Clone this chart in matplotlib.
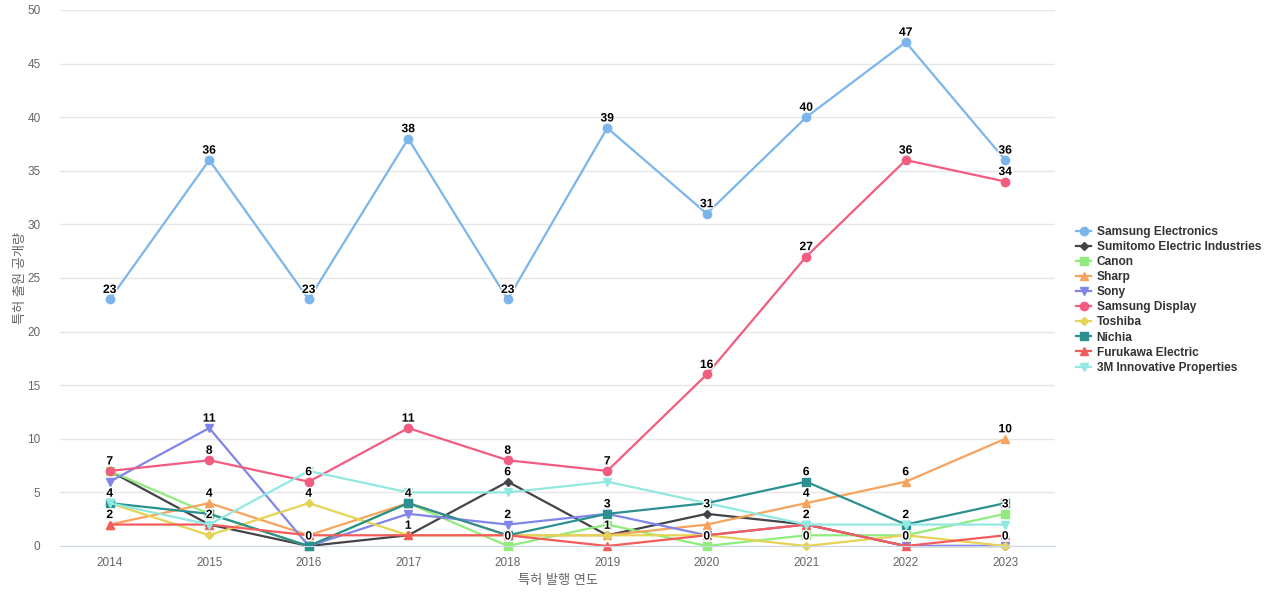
import matplotlib
matplotlib.use("Agg")
import matplotlib.pyplot as plt
import matplotlib.patheffects as pe

plt.rcParams['font.family'] = ['Liberation Sans', 'Noto Sans CJK KR', 'DejaVu Sans']

years = [2014, 2015, 2016, 2017, 2018, 2019, 2020, 2021, 2022, 2023]

samsung_electronics = [23, 36, 23, 38, 23, 39, 31, 40, 47, 36]
sumitomo = [7, 2, 0, 1, 6, 1, 3, 2, 0, 0]
canon = [7, 3, 0, 4, 0, 2, 0, 1, 1, 3]
sharp = [2, 4, 1, 4, 1, 1, 2, 4, 6, 10]
sony = [6, 11, 0, 3, 2, 3, 1, 2, 0, 0]
samsung_display = [7, 8, 6, 11, 8, 7, 16, 27, 36, 34]
toshiba = [4, 1, 4, 1, 1, 1, 1, 0, 1, 0]
nichia = [4, 3, 0, 4, 1, 3, 4, 6, 2, 4]
furukawa = [2, 2, 1, 1, 1, 0, 1, 2, 0, 1]
innovative_3m = [4, 2, 7, 5, 5, 6, 4, 2, 2, 2]

series = [
    ("Samsung Electronics", samsung_electronics, "#7cb5ec", "o"),
    ("Sumitomo Electric Industries", sumitomo, "#434348", "D"),
    ("Canon", canon, "#90ed7d", "s"),
    ("Sharp", sharp, "#f7a35c", "^"),
    ("Sony", sony, "#8085e9", "v"),
    ("Samsung Display", samsung_display, "#f15c80", "o"),
    ("Toshiba", toshiba, "#e4d354", "D"),
    ("Nichia", nichia, "#2b908f", "s"),
    ("Furukawa Electric", furukawa, "#f45b5b", "^"),
    ("3M Innovative Properties", innovative_3m, "#91e8e1", "v"),
]

fig = plt.figure(figsize=(12.8, 6), dpi=100)
ax = fig.add_axes([60 / 1280, 54 / 600, 995 / 1280, 536 / 600])

x = list(range(len(years)))
for name, vals, color, marker in series:
    ms = 4.5 if marker == "D" else 6
    ax.plot(x, vals, color=color, marker=marker, markersize=ms, linewidth=1.6,
            label=name, clip_on=False)

ax.set_xlim(-0.5, len(years) - 0.5)
ax.set_ylim(0, 50)
ax.set_yticks(range(0, 51, 5))
ax.set_xticks(x)
ax.set_xticklabels([str(y) for y in years])
ax.grid(axis="y", color="#e6e6e6", linewidth=1)
ax.set_axisbelow(True)
for side in ["top", "right", "left"]:
    ax.spines[side].set_visible(False)
ax.spines["bottom"].set_color("#ccd6eb")
ax.tick_params(axis="both", length=0, labelsize=8.5, colors="#666666")
ax.tick_params(axis="y", pad=14)
ax.tick_params(axis="x", pad=8)
ax.set_xlabel("특허 발행 연도", fontsize=9.5, color="#666666", labelpad=4)
ax.set_ylabel("특허 출원 공개량", fontsize=9.5, color="#666666", labelpad=0)

# data labels, skipped when they would collide with one already placed
fig.canvas.draw()
placed = {i: [] for i in x}
for name, vals, color, marker in series:
    for i, v in zip(x, vals):
        py = ax.transData.transform((i, v))[1]
        if any(abs(py - q) < 15 for q in placed[i]):
            continue
        placed[i].append(py)
        ax.annotate(str(v), (i, v), xytext=(0, 2.5), textcoords="offset points",
                    ha="center", va="bottom", fontsize=8.7, fontweight="bold",
                    color="black", zorder=10,
                    path_effects=[pe.withStroke(linewidth=2, foreground="white")])

leg = fig.legend(loc="upper left", bbox_to_anchor=(1071 / 1280, 1 - 221 / 600),
                 frameon=False, fontsize=8.6, handlelength=1.3, handletextpad=0.45,
                 labelspacing=0.26, borderaxespad=0)
for t in leg.get_texts():
    t.set_fontweight("bold")
    t.set_color("#333333")

fig.savefig("out.png", dpi=100)
